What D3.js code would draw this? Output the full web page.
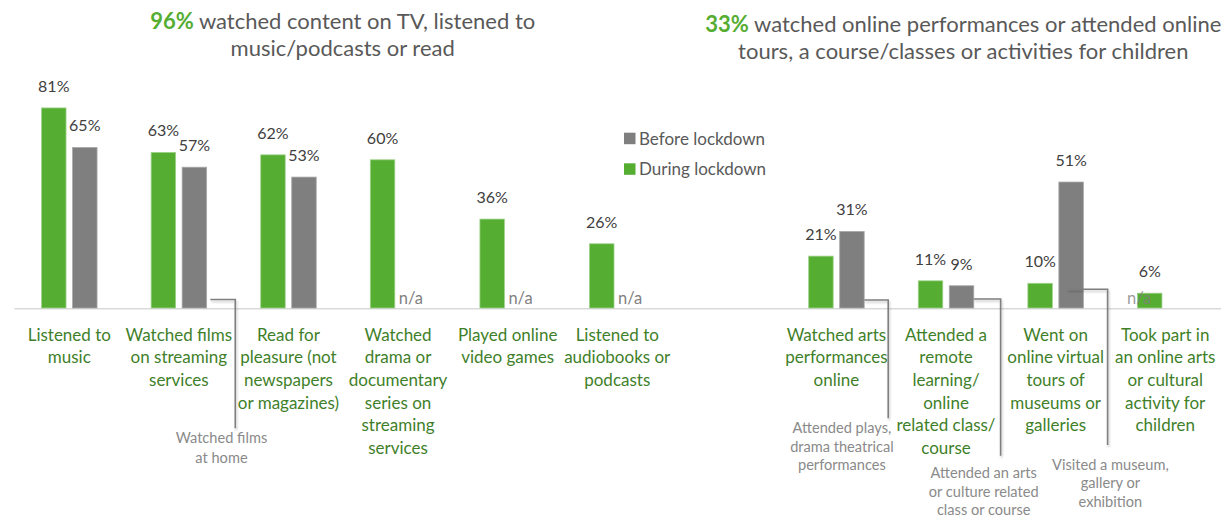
<!DOCTYPE html>
<html>
<head>
<meta charset="utf-8">
<script src="https://cdn.jsdelivr.net/npm/d3@7"></script>
<style>
  html, body { margin: 0; padding: 0; background: #ffffff; }
  svg { display: block; font-family: Lato, "Open Sans", sans-serif; }
</style>
</head>
<body>
<svg id="chart" width="1221" height="524"></svg>
<script>
// ---- Activities at home ----
const homeCategories = [
  ["Listened to", "music"],
  ["Watched films", "on streaming", "services"],
  ["Read for", "pleasure (not", "newspapers", "or magazines)"],
  ["Watched", "drama or", "documentary", "series on", "streaming", "services"],
  ["Played online", "video games"],
  ["Listened to", "audiobooks or", "podcasts"]
];
const homeDuring = [81, 63, 62, 60, 36, 26];
const homeBefore = [65, 57, 53, null, null, null];

// ---- Online participation ----
const onlineCategories = [
  ["Watched arts", "performances", "online"],
  ["Attended a", "remote", "learning/", "online", "related class/", "course"],
  ["Went on", "online virtual", "tours of", "museums or", "galleries"],
  ["Took part in", "an online arts", "or cultural", "activity for", "children"]
];
const onlineDuring = [21, 11, 10, 6];
const onlineBefore = [31, 9, 51, null];

// Pre-lockdown equivalents shown under some categories
const beforeNotes = [
  ["Watched films", "at home"],
  ["Attended plays,", "drama theatrical", "performances"],
  ["Attended an arts", "or culture related", "class or course"],
  ["Visited a museum,", "gallery or", "exhibition"]
];
const noteTargets = ["h1", "o0", "o1", "o2"];

const seriesLabels = ["Before lockdown", "During lockdown"];
const panelTitles = [
  { share: "96%", lines: [" watched content on TV, listened to", "music/podcasts or read"] },
  { share: "33%", lines: [" watched online performances or attended online", "tours, a course/classes or activities for children"] }
];

// ---- Styling ----
const GREEN = "#55ad32";
const GREEN_TEXT = "#3f7f2a";
const GREY = "#7f7f7f";
const LABEL = "#404040";
const TITLE = "#595959";

// ---- Rows: home categories, an empty slot, then online categories ----
const rows = [
  ...homeCategories.map((c, i) => ({ key: "h" + i, panel: 0, lines: c, during: homeDuring[i], before: homeBefore[i] })),
  { key: "gap", spacer: true },
  ...onlineCategories.map((c, i) => ({ key: "o" + i, panel: 1, lines: c, during: onlineDuring[i], before: onlineBefore[i] }))
];
const dataRows = rows.filter(r => !r.spacer);

const svg = d3.select("#chart");

const x = d3.scaleBand().domain(rows.map(r => r.key)).range([14.5, 1220]);
const groupW = 55.5;
const inner = d3.scaleBand().domain(["during", "before"]).range([0, groupW]).paddingInner(0.21);
const groupOffset = (x.bandwidth() - groupW) / 2;
const y = d3.scaleLinear().domain([0, 100]).range([308, 61]);

const barX = (r, s) => x(r.key) + groupOffset + inner(s);

// drop shadow for leader lines and title rules
const defs = svg.append("defs");
const f = defs.append("filter").attr("id", "shade").attr("x", "-20%").attr("y", "-20%").attr("width", "140%").attr("height", "160%");
f.append("feDropShadow").attr("dx", 1).attr("dy", 2).attr("stdDeviation", 1.2)
  .attr("flood-color", "#000").attr("flood-opacity", 0.22);

// ---- Panel titles ----
const titleGeom = [
  { cx: 342.7, base: 28.5, rule: [33, 633], ruleY: 66.7 },
  { cx: 963.3, base: 31.5, rule: [727, 1221], ruleY: 67.7 }
];
panelTitles.forEach((t, i) => {
  const g = titleGeom[i];
  const txt = svg.append("text")
    .attr("x", g.cx).attr("y", g.base)
    .attr("text-anchor", "middle")
    .style("font-size", "22px").attr("fill", TITLE);
  txt.append("tspan").attr("font-weight", 700).attr("fill", GREEN).text(t.share);
  txt.append("tspan").text(t.lines[0]);
  svg.append("text")
    .attr("x", g.cx).attr("y", g.base + 27)
    .attr("text-anchor", "middle")
    .style("font-size", "22px").attr("fill", TITLE)
    .text(t.lines[1]);
  svg.append("line")
    .attr("x1", g.rule[0]).attr("x2", g.rule[1])
    .attr("y1", g.ruleY).attr("y2", g.ruleY)
    .attr("stroke", GREY).attr("stroke-width", 1.3)
    .attr("filter", "url(#shade)");
});

// ---- Baseline ----
svg.append("line")
  .attr("x1", 14.5).attr("x2", 1221)
  .attr("y1", y(0) + 0.75).attr("y2", y(0) + 0.75)
  .attr("stroke", "#d9d9d9").attr("stroke-width", 1.5);

// ---- Bars ----
const barData = dataRows.flatMap(r => [
  { r, s: "during", v: r.during },
  { r, s: "before", v: r.before }
]).filter(d => d.v != null);

svg.append("g").selectAll("rect")
  .data(barData)
  .join("rect")
  .attr("x", d => barX(d.r, d.s))
  .attr("y", d => y(d.v))
  .attr("width", inner.bandwidth())
  .attr("height", d => y(0) - y(d.v))
  .attr("fill", d => d.s === "during" ? GREEN : GREY)
  .attr("stroke", d => d.s === "during" ? "#9fd28a" : "#a8a8a8")
  .attr("stroke-width", 0.8);

// ---- n/a markers for series with no value ----
svg.append("g").selectAll("text")
  .data(dataRows.filter(r => r.before == null))
  .join("text")
  .attr("x", r => r.panel === 1 ? barX(r, "during") - 10.5 : barX(r, "before") - 2.5)
  .attr("y", y(0) - 4)
  .style("font-size", "16.5px")
  .attr("fill", GREY)
  .attr("fill-opacity", r => r.panel === 1 ? 0.8 : 1)
  .text("n/a");

// ---- Value labels ----
svg.append("g").selectAll("text")
  .data(barData)
  .join("text")
  .attr("x", d => barX(d.r, d.s) + inner.bandwidth() / 2)
  .attr("y", d => y(d.v) - 16)
  .attr("text-anchor", "middle")
  .style("font-size", "16px")
  .attr("fill", LABEL)
  .text(d => d.v + "%");

// ---- Category labels ----
const catG = svg.append("g");
dataRows.forEach(r => {
  const t = catG.append("text")
    .attr("text-anchor", "middle")
    .style("font-size", "17px")
    .attr("fill", GREEN_TEXT);
  r.lines.forEach((ln, i) => {
    t.append("tspan")
      .attr("x", x(r.key) + x.bandwidth() / 2)
      .attr("y", 340.7 + i * 22.6)
      .text(ln);
  });
});

// ---- Leader lines to the pre-lockdown notes ----
const noteLayout = [
  { start: 28.2, hy: 299.5, vdx: 1.6, vy: 428.3, tdx: -13.8, base: 443.3, step: 20 },
  { start: 24.7, hy: 300, vdx: -3, vy: 418.3, tdx: -46.3, base: 432.7, step: 18.8 },
  { start: 24.3, hy: 299, vdx: -0.2, vy: 455.7, tdx: -16.9, base: 478.3, step: 18.4 },
  { start: 8, hy: 289.3, vdx: -2.8, vy: 445, tdx: 2.8, base: 470, step: 18.4 }
];
const rowByKey = new Map(dataRows.map(r => [r.key, r]));
beforeNotes.forEach((lines, i) => {
  const r = rowByKey.get(noteTargets[i]);
  const L = noteLayout[i];
  const x0 = barX(r, "before") + L.start;
  const vx = x(r.key) + x.bandwidth() + L.vdx;
  svg.append("path")
    .attr("d", d3.line()([[x0, L.hy], [vx, L.hy], [vx, L.vy]]))
    .attr("fill", "none")
    .attr("stroke", GREY)
    .attr("stroke-width", 1.6)
    .attr("filter", "url(#shade)");
  const t = svg.append("text")
    .attr("text-anchor", "middle")
    .style("font-size", "14.6px")
    .attr("fill", "#8a8a8a");
  lines.forEach((ln, j) => {
    t.append("tspan").attr("x", vx + L.tdx).attr("y", L.base + j * L.step).text(ln);
  });
});

// ---- Legend ----
const legend = svg.append("g");
seriesLabels.forEach((name, i) => {
  const ly = 132.7 + i * 30.6;
  legend.append("rect")
    .attr("x", 624).attr("y", ly)
    .attr("width", 11.5).attr("height", 11.5)
    .attr("fill", i === 0 ? GREY : GREEN);
  legend.append("text")
    .attr("x", 639).attr("y", ly + 12)
    .style("font-size", "17px")
    .attr("fill", TITLE)
    .text(name);
});
</script>
</body>
</html>
